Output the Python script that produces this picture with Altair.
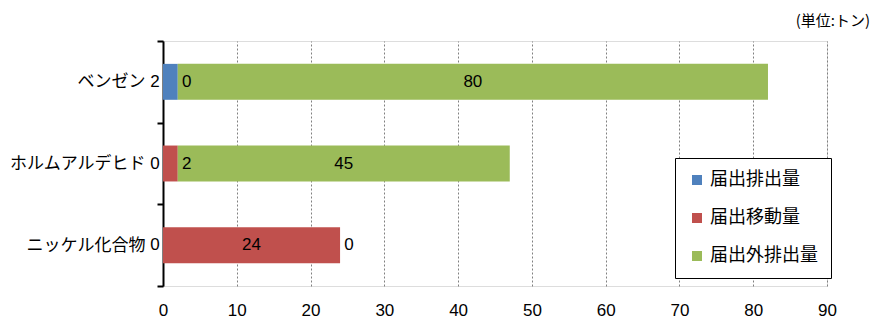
import altair as alt
import pandas as pd

# ---- data ----
categories = ["ベンゼン", "ホルムアルデヒド", "ニッケル化合物"]
series = ["届出排出量", "届出移動量", "届出外排出量"]
colors = ["#4F81BD", "#C0504D", "#9BBB59"]
emission = [2, 0, 0]      # 届出排出量
transfer = [0, 2, 24]     # 届出移動量
outside = [80, 45, 0]     # 届出外排出量
x_ticks = [0, 10, 20, 30, 40, 50, 60, 70, 80, 90]
title_text = "上位5物質ごとの量"
unit_text = "(単位:トン)"

# ---- build the table (stack by hand to keep the series order) ----
rows = []
for i, cat in enumerate(categories):
    start = 0
    for j, (s, vals) in enumerate(zip(series, [emission, transfer, outside])):
        v = vals[i]
        end = start + v
        if v >= 5:
            anchor, kind = (start + end) / 2, "mid"
        elif j == 0:
            anchor, kind = start, "before"
        else:
            anchor, kind = end, "after"
        rows.append(dict(cat=cat, series=s, value=v, start=start, end=end,
                         anchor=anchor, kind=kind, label=str(v)))
        start = end
df = pd.DataFrame(rows)

FONT_JP = "Noto Sans CJK JP"
FONT_NUM = "Liberation Sans Narrow, Liberation Sans, Arial, sans-serif"
W, H = 664, 245

y_enc = alt.Y(
    "cat:N", sort=categories, title=None,
    scale=alt.Scale(paddingInner=0, paddingOuter=0),
    axis=alt.Axis(tickBand="extent", domainColor="black", domainWidth=2,
                  tickColor="black", tickWidth=2, tickSize=6, grid=False,
                  labelFont=FONT_JP, labelFontSize=17, labelColor="black",
                  labelPadding=12),
)
x_scale = alt.Scale(domain=[0, 90], nice=False, zero=True)
x_axis = alt.Axis(values=x_ticks, title=None, domain=False, ticks=False,
                  grid=True, gridColor="#808080", gridDash=[2, 2], gridWidth=1,
                  labelFont=FONT_NUM, labelFontSize=17, labelColor="black",
                  labelPadding=16, labelFlush=False)

base = alt.Chart(df)

bars = base.mark_bar(height={"band": 0.44}).encode(
    x=alt.X("start:Q", scale=x_scale, axis=x_axis),
    x2="end:Q",
    y=y_enc,
    color=alt.Color("series:N", scale=alt.Scale(domain=series, range=colors),
                    legend=alt.Legend(orient="none", legendX=512, legendY=117,
                                      title=None, strokeColor="black",
                                      fillColor="white", padding=13,
                                      symbolType="square", symbolSize=100,
                                      symbolStrokeWidth=0,
                                      labelFont=FONT_JP, labelFontSize=18,
                                      labelColor="black", labelOffset=4,
                                      rowPadding=20)),
)

def labels(kind, dx):
    return base.transform_filter(alt.datum.kind == kind).mark_text(
        font=FONT_NUM, fontSize=17, color="black", dx=dx,
        align="center", baseline="middle",
    ).encode(
        x=alt.X("anchor:Q", scale=x_scale, axis=x_axis),
        y=y_enc,
        text="label:N",
    )

unit = alt.Chart(pd.DataFrame({"t": [unit_text]})).mark_text(
    font=FONT_JP, fontSize=15, color="black", align="right", baseline="middle"
).encode(x=alt.value(707), y=alt.value(-20), text="t:N")

title = alt.Chart(pd.DataFrame({"t": [title_text]})).mark_text(
    font=FONT_JP, fontSize=30, fontWeight="bold", color="black",
    align="center", baseline="bottom"
).encode(x=alt.value(262), y=alt.value(-35), text="t:N")

chart = alt.layer(
    bars, labels("mid", 0), labels("before", -8), labels("after", 9), unit, title
).properties(
    width=W, height=H,
    autosize=alt.AutoSizeParams(type="none"),
    padding={"left": 155, "top": 33, "right": 44, "bottom": 36},
).configure_view(
    stroke="#808080", strokeWidth=1
).configure_legend(
    strokeWidth=2
).configure(background="white")

chart.save("out.html", embed_options={"renderer": "svg", "actions": False})
